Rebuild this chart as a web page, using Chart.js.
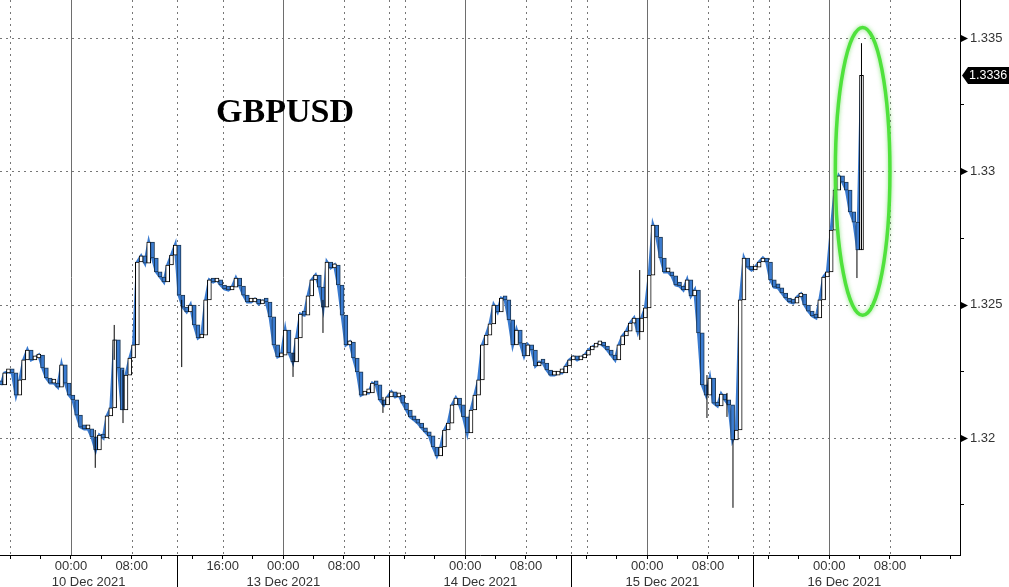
<!DOCTYPE html>
<html>
<head>
<meta charset="utf-8">
<script src="https://cdn.jsdelivr.net/npm/chart.js@4.4.0/dist/chart.umd.min.js"></script>
<style>
html, body { margin: 0; padding: 0; background: #fff; }
</style>
</head>
<body>
<canvas id="fxChart" width="1009" height="587"></canvas>
<script>
// GBPUSD half-hour closes. x is "trading hours" from 10 Dec 00:00 (weekend removed)
const firstHour = -9.25;
const stepHours = 0.5;
const closes = [
  1.32199, 1.32244, 1.32248, 1.32244, 1.32161, 1.32218, 1.32293, 1.32330, 1.32293, 1.32300, 1.32311, 1.32263,
  1.32225, 1.32206, 1.32206, 1.32191, 1.32274, 1.32206, 1.32161, 1.32143, 1.32086, 1.32041, 1.32034, 1.32034,
  1.32004, 1.31955, 1.32011, 1.32000, 1.32083, 1.32113, 1.32368, 1.32263, 1.32105, 1.32236, 1.32300, 1.32349,
  1.32660, 1.32683, 1.32656, 1.32735, 1.32675, 1.32623, 1.32604, 1.32585, 1.32649, 1.32686, 1.32724, 1.32536,
  1.32491, 1.32473, 1.32499, 1.32424, 1.32375, 1.32386, 1.32518, 1.32593, 1.32585, 1.32593, 1.32574, 1.32559,
  1.32555, 1.32566, 1.32600, 1.32570, 1.32536, 1.32510, 1.32510, 1.32521, 1.32503, 1.32514, 1.32510, 1.32454,
  1.32349, 1.32304, 1.32311, 1.32405, 1.32319, 1.32285, 1.32375, 1.32465, 1.32461, 1.32533, 1.32593, 1.32611,
  1.32566, 1.32491, 1.32660, 1.32638, 1.32649, 1.32574, 1.32461, 1.32349, 1.32360, 1.32300, 1.32248, 1.32161,
  1.32169, 1.32169, 1.32206, 1.32199, 1.32143, 1.32124, 1.32154, 1.32173, 1.32154, 1.32161, 1.32131, 1.32105,
  1.32079, 1.32068, 1.32056, 1.32038, 1.32023, 1.32008, 1.31966, 1.31933, 1.31966, 1.32030, 1.32056, 1.32124,
  1.32150, 1.32124, 1.32079, 1.32019, 1.32105, 1.32161, 1.32218, 1.32349, 1.32386, 1.32428, 1.32499, 1.32473,
  1.32525, 1.32518, 1.32443, 1.32349, 1.32405, 1.32356, 1.32308, 1.32349, 1.32330, 1.32270, 1.32285, 1.32281,
  1.32255, 1.32236, 1.32236, 1.32244, 1.32244, 1.32270, 1.32293, 1.32304, 1.32293, 1.32300, 1.32311, 1.32330,
  1.32341, 1.32349, 1.32356, 1.32345, 1.32330, 1.32311, 1.32293, 1.32349, 1.32383, 1.32401, 1.32431, 1.32450,
  1.32398, 1.32450, 1.32488, 1.32611, 1.32799, 1.32754, 1.32675, 1.32623, 1.32623, 1.32608, 1.32574, 1.32570,
  1.32555, 1.32593, 1.32533, 1.32555, 1.32394, 1.32199, 1.32161, 1.32225, 1.32131, 1.32120, 1.32165, 1.32143,
  1.32124, 1.31993, 1.32030, 1.32518, 1.32675, 1.32641, 1.32630, 1.32641, 1.32660, 1.32675, 1.32660, 1.32593,
  1.32566, 1.32563, 1.32544, 1.32525, 1.32510, 1.32506, 1.32529, 1.32540, 1.32499, 1.32476, 1.32458, 1.32450,
  1.32518, 1.32604, 1.32623, 1.32780, 1.32930, 1.32983, 1.32960, 1.32930, 1.32848, 1.32810, 1.32705, 1.33360
];
// long wicks that stick out of the candle bodies
const wickHours = [3.2, 5.7, 6.86, 14.6, 29.28, 33.23, 41.14, 75.0, 83.87, 86.51, 87.3, 103.65, 104.25];
const wickLows  = [1.31888, 1.32293, 1.32056, 1.32266, 1.32229, 1.32394, 1.32094, 1.32368, 1.32075, 1.32079, 1.31738, 1.32600, 1.32705];
const wickHighs = [1.32030, 1.32424, 1.32255, 1.32518, 1.32319, 1.32518, 1.32154, 1.32630, 1.32236, 1.32169, 1.31993, 1.32705, 1.33481];

const labelHours = [0, 8, 20, 28, 36, 52, 60, 76, 84, 100, 108];
const labelTexts = ['00:00', '08:00', '16:00', '00:00', '08:00', '00:00', '08:00', '00:00', '08:00', '00:00', '08:00'];
const dayNames  = ['10 Dec 2021', '13 Dec 2021', '14 Dec 2021', '15 Dec 2021', '16 Dec 2021'];
const dayBounds = [[-9.36, 14], [14, 42], [42, 66], [66, 90], [90, 114]];
const dayStarts = [0, 28, 52, 76, 100];
const dottedHours = [-8, 8, 14, 20, 36, 42, 44, 60, 66, 68, 84, 90, 92, 108];
const separatorHours = [14, 42, 66, 90];
const yTicks  = [1.3175, 1.32, 1.3225, 1.325, 1.3275, 1.33, 1.3325, 1.335];
const yLabels = ['1.32', '1.325', '1.33', '1.335'];
const lastPrice = '1.3336';

const hours = closes.map((_, i) => firstHour + i * stepHours);
const closePts = closes.map((c, i) => ({ x: hours[i], y: c }));
// body of each candle runs from the previous close to this close
const bodies = closes.map((c, i) => ({ x: hours[i], y: [i ? closes[i - 1] : c, c] }));
const wickPts = [];
wickHours.forEach((h, i) => {
  wickPts.push({ x: h, y: wickLows[i] }, { x: h, y: wickHighs[i] }, { x: h, y: null });
});
const isUp = i => i > 0 && closes[i] >= closes[i - 1];

const FONT = 'Liberation Sans';

const decor = {
  id: 'decor',
  beforeDatasetsDraw(chart) {
    const { ctx, chartArea: a, scales: { x, y } } = chart;
    ctx.save();
    ctx.lineWidth = 1;
    ctx.strokeStyle = '#777';
    ctx.setLineDash([2, 4]);
    yLabels.forEach(l => {
      const py = Math.round(y.getPixelForValue(parseFloat(l))) + 0.5;
      ctx.beginPath(); ctx.moveTo(a.left, py); ctx.lineTo(a.right, py); ctx.stroke();
    });
    dottedHours.forEach(h => {
      const px = Math.round(x.getPixelForValue(h)) + 0.5;
      ctx.beginPath(); ctx.moveTo(px, a.top); ctx.lineTo(px, a.bottom); ctx.stroke();
    });
    ctx.setLineDash([]);
    ctx.strokeStyle = '#6e6e6e';
    dayStarts.forEach(h => {
      const px = Math.round(x.getPixelForValue(h)) + 0.5;
      ctx.beginPath(); ctx.moveTo(px, a.top); ctx.lineTo(px, a.bottom); ctx.stroke();
    });
    ctx.restore();
  },
  afterDatasetsDraw(chart) {
    const { ctx, scales: { x, y } } = chart;
    // highlight ellipse around the spike
    const cx = x.getPixelForValue(104.4);
    const rx = x.getPixelForValue(108.0) - cx;
    const top = y.getPixelForValue(1.3354);
    const bot = y.getPixelForValue(1.3246);
    ctx.save();
    ctx.strokeStyle = '#4fe23c';
    ctx.lineWidth = 3.5;
    ctx.shadowColor = 'rgba(70,210,50,0.6)';
    ctx.shadowBlur = 4;
    ctx.beginPath();
    ctx.ellipse(cx, (top + bot) / 2, rx, (bot - top) / 2, 0, 0, Math.PI * 2);
    ctx.stroke();
    ctx.restore();
  },
  afterDraw(chart) {
    const { ctx, chartArea: a, scales: { x, y } } = chart;
    ctx.save();
    ctx.fillStyle = '#000';
    ctx.font = 'bold 34px "Liberation Serif"';
    ctx.textAlign = 'center';
    ctx.textBaseline = 'alphabetic';
    ctx.fillText('GBPUSD', 285, 122);
    ctx.font = '13px "' + FONT + '"';
    ctx.fillStyle = '#333';
    ctx.textBaseline = 'middle';
    dayNames.forEach((d, i) => {
      const px = (x.getPixelForValue(dayBounds[i][0]) + x.getPixelForValue(dayBounds[i][1])) / 2;
      ctx.fillText(d, px, 582);
    });
    ctx.strokeStyle = '#000';
    ctx.lineWidth = 1;
    separatorHours.forEach(h => {
      const px = Math.round(x.getPixelForValue(h)) + 0.5;
      ctx.beginPath(); ctx.moveTo(px, a.bottom); ctx.lineTo(px, chart.height); ctx.stroke();
    });
    ctx.fillStyle = '#000';
    yLabels.forEach(l => {
      const py = Math.round(y.getPixelForValue(parseFloat(l))) + 0.5;
      ctx.beginPath();
      ctx.moveTo(a.right + 1, py - 3.5); ctx.lineTo(a.right + 8, py); ctx.lineTo(a.right + 1, py + 3.5);
      ctx.closePath(); ctx.fill();
    });
    // last price tag
    const py = y.getPixelForValue(parseFloat(lastPrice));
    ctx.beginPath();
    ctx.moveTo(a.right + 2, py);
    ctx.lineTo(a.right + 8, py - 8.5);
    ctx.lineTo(chart.width, py - 8.5);
    ctx.lineTo(chart.width, py + 8.5);
    ctx.lineTo(a.right + 8, py + 8.5);
    ctx.closePath();
    ctx.fill();
    ctx.fillStyle = '#fff';
    ctx.textAlign = 'left';
    ctx.font = '12.5px "' + FONT + '"';
    ctx.fillText(lastPrice, a.right + 9, py + 0.5);
    ctx.restore();
  }
};

new Chart(document.getElementById('fxChart'), {
  type: 'bar',
  data: {
    datasets: [
      { type: 'line', data: wickPts, borderColor: '#000', borderWidth: 1, pointRadius: 0, spanGaps: false, order: 0 },
      {
        data: bodies,
        barThickness: 4,
        minBarLength: 4,
        borderSkipped: false,
        borderWidth: 1,
        borderColor: c => isUp(c.dataIndex) ? '#000' : '#1b3550',
        backgroundColor: c => isUp(c.dataIndex) ? '#fff' : '#3a7bd0',
        order: 1
      },
      { type: 'line', data: closePts, borderColor: '#3a7bd0', borderWidth: 3, pointRadius: 0, tension: 0, order: 2 }
    ]
  },
  options: {
    responsive: false,
    animation: false,
    layout: { padding: 0 },
    plugins: { legend: { display: false }, tooltip: { enabled: false } },
    scales: {
      x: {
        type: 'linear',
        offset: false,
        min: -9.363,
        max: 117.24,
        afterBuildTicks: s => {
          const t = [];
          for (let h = -8; h <= 116; h += 4) t.push({ value: h });
          s.ticks = t;
        },
        afterFit: s => { s.height = 32; s.paddingLeft = 0; s.paddingRight = 0; },
        ticks: {
          autoSkip: false,
          maxRotation: 0,
          padding: 0,
          color: '#333',
          font: { family: FONT, size: 13 },
          callback: v => {
            const i = labelHours.indexOf(v);
            return i >= 0 ? labelTexts[i] : '';
          }
        },
        grid: { drawOnChartArea: false, offset: false, tickLength: 4, tickColor: '#000' },
        border: { color: '#000', width: 1 }
      },
      y: {
        type: 'linear',
        position: 'right',
        min: 1.31561,
        max: 1.33643,
        afterBuildTicks: s => { s.ticks = yTicks.map(v => ({ value: v })); },
        afterFit: s => { s.width = 49; s.paddingTop = 0; s.paddingBottom = 0; },
        ticks: {
          padding: 6,
          color: '#333',
          font: { family: FONT, size: 13 },
          callback: v => {
            const l = yLabels.find(t => Math.abs(parseFloat(t) - v) < 1e-6);
            return l || '';
          }
        },
        grid: { drawOnChartArea: false, tickLength: 4, tickColor: '#000' },
        border: { color: '#000', width: 1 }
      }
    }
  },
  plugins: [decor]
});
</script>
</body>
</html>
